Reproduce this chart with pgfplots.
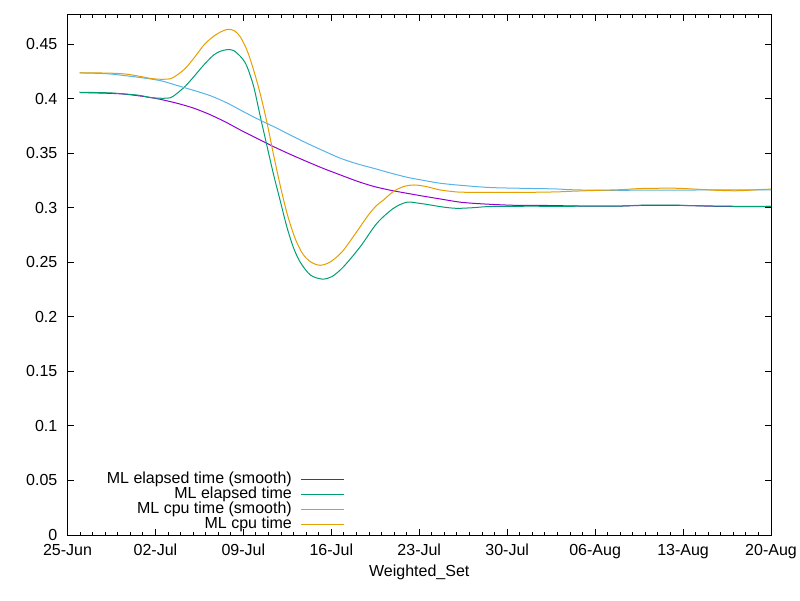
\documentclass[border=0pt]{standalone}
\usepackage{fontspec}
\setmainfont{Liberation Sans}
\usepackage{pgfplots}
\pgfplotsset{compat=1.18}
\usepackage{pgfplotstable}
\definecolor{gpurple}{RGB}{148,0,211}
\definecolor{ggreen}{RGB}{0,158,115}
\definecolor{gblue}{RGB}{86,180,233}
\definecolor{gorange}{RGB}{230,159,0}

\pgfplotstableread{
x y
1 0.4055
2.5 0.4051
4 0.4045
5 0.4035
6 0.4020
7 0.4002
7.4 0.3993
8.72 0.3957
10.05 0.3912
11.4 0.3850
12.7 0.3778
13.76 0.3712
15.1 0.3634
16.41 0.3559
17.75 0.3488
19.07 0.3422
20.4 0.3358
21.72 0.3300
23.05 0.3243
24.37 0.3195
25.7 0.3160
27.02 0.3132
28.35 0.3105
29.67 0.3080
31.3 0.3050
33 0.3035
35.5 0.3022
38.2 0.3020
41 0.3015
44 0.3015
45.5 0.3020
49 0.3020
51.9 0.3012
55 0.3010
56 0.3012
}\elapsedsmooth

\pgfplotstableread{
x y
0.95 0.4058
2 0.4056
3.4 0.4052
4.6 0.4042
5.7 0.4030
6.6 0.4010
7.4 0.4003
8.2 0.4008
8.72 0.4048
9.39 0.4115
10.05 0.4200
10.85 0.4308
11.64 0.4400
12.2 0.4435
12.70 0.4448
13.23 0.4440
13.89 0.4370
14.29 0.4293
14.82 0.4110
15.35 0.3834
15.88 0.3565
16.41 0.3300
16.94 0.3060
17.47 0.2820
18.00 0.2630
18.53 0.2500
19.33 0.2383
20.26 0.2346
21.05 0.2368
21.98 0.2460
23.31 0.2643
24.63 0.2857
25.96 0.2995
27.02 0.3050
28.0 0.3040
28.61 0.3030
29.94 0.3005
31.0 0.2994
32.3 0.3000
33.5 0.3010
36 0.3013
40 0.3013
44 0.3015
45.5 0.3022
48 0.3024
50 0.3018
53 0.3013
56 0.3013
}\elapsed

\pgfplotstableread{
x y
1 0.4235
2.2 0.4232
3.42 0.4225
5.67 0.4195
7.4 0.4164
8.72 0.4120
10.05 0.4075
11.4 0.4025
12.7 0.3960
13.76 0.3895
15.1 0.3815
16.41 0.3743
17.75 0.3665
19.07 0.3590
20.4 0.3520
21.72 0.3453
23.05 0.3402
24.37 0.3361
25.7 0.3318
27.02 0.3279
28.35 0.3250
29.67 0.3224
31.3 0.3205
33.6 0.3185
36 0.3178
38.8 0.3172
40 0.3165
42 0.3160
46 0.3160
50 0.3162
53 0.3163
56 0.3164
}\cpusmooth

\pgfplotstableread{
x y
0.95 0.4235
2 0.4235
3.4 0.4233
4.6 0.4225
5.7 0.4205
6.6 0.4185
7.4 0.4177
8.2 0.4182
8.72 0.4216
9.38 0.4277
10.05 0.4369
10.85 0.4490
11.4 0.4550
11.9 0.4592
12.4 0.4622
12.83 0.4635
13.3 0.4620
13.76 0.4565
14.3 0.4440
14.82 0.4260
15.35 0.4040
15.88 0.3780
16.41 0.3480
16.94 0.3200
17.47 0.2950
18.0 0.2755
18.4 0.2645
18.8 0.2565
19.4 0.2500
20.1 0.2472
20.8 0.2495
21.4 0.2545
21.98 0.2612
22.6 0.2710
23.3 0.2826
24.0 0.2940
24.6 0.3020
25.2 0.3075
25.96 0.3150
26.8 0.3195
27.6 0.3208
28.5 0.3195
29.67 0.3162
30.5 0.3150
31.3 0.3142
33 0.3141
35 0.3141
37 0.3141
39 0.3145
40 0.3150
42 0.3158
44 0.3165
45.5 0.3175
47 0.3178
48.5 0.3178
50 0.3170
51.5 0.3160
53 0.3155
54 0.3158
55 0.3165
56 0.3170
}\cpu

\begin{document}
\fontsize{16pt}{19pt}\selectfont
\begin{tikzpicture}
\path[use as bounding box] (0,0) rectangle (800pt,600pt);
\begin{axis}[
  at={(67.5pt,65pt)}, anchor=south west,
  scale only axis, width=703.5pt, height=520pt,
  xmin=0, xmax=56, ymin=0, ymax=0.4766,
  xtick={0,7,...,56},
  xticklabels={25-Jun,02-Jul,09-Jul,16-Jul,23-Jul,30-Jul,06-Aug,13-Aug,20-Aug},
  minor x tick num=6,
  ytick={0,0.05,0.1,0.15,0.2,0.25,0.3,0.35,0.4,0.45},
  yticklabels={0,0.05,0.1,0.15,0.2,0.25,0.3,0.35,0.4,0.45},
  tick align=inside,
  major tick length=6pt, minor tick length=3pt,
  every tick/.style={black, line width=1pt},
  axis line style={line width=1pt},
  tick label style={font=\fontsize{16pt}{19pt}\selectfont},
  yticklabel style={inner xsep=0pt, xshift=-10pt},
  xticklabel style={inner sep=0pt, anchor=base, yshift=-20pt},
  xlabel={Weighted\_Set},
  xlabel style={at={(axis description cs:0.5,0)}, anchor=base, yshift=-41pt, inner sep=0pt, font=\fontsize{16pt}{19pt}\selectfont},
  legend plot pos=right,
  legend cell align=right,
  legend style={at={(0.3939,0.1208)}, anchor=north east, draw=none, fill=none,
    inner sep=0pt, row sep=0pt, font=\fontsize{16pt}{19pt}\selectfont,
    /tikz/every odd column/.append style={column sep=3pt},
    nodes={inner xsep=6pt, inner ysep=0pt, text height=11.5pt, text depth=3.5pt}},
  legend image code/.code={\draw[#1] (0pt,0pt) -- (42.6pt,0pt);},
  every axis plot/.append style={line width=1pt},
]
\addplot[gpurple, smooth] table {\elapsedsmooth};
\addlegendentry{ML elapsed time (smooth)}
\addplot[ggreen, smooth] table {\elapsed};
\addlegendentry{ML elapsed time}
\addplot[gblue, smooth] table {\cpusmooth};
\addlegendentry{ML cpu time (smooth)}
\addplot[gorange, smooth] table {\cpu};
\addlegendentry{ML cpu time}
\end{axis}
\end{tikzpicture}
\end{document}
